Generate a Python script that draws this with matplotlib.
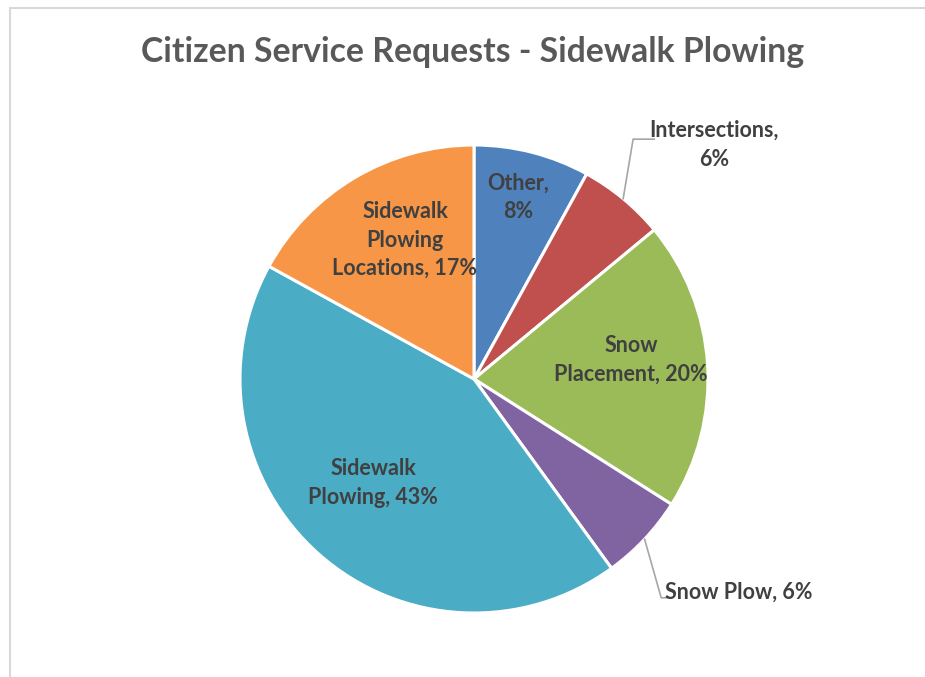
import numpy as np
import matplotlib.pyplot as plt
from matplotlib.patches import Rectangle

# slices, clockwise from 12 o'clock
categories = ["Other", "Intersections", "Snow Placement", "Snow Plow",
              "Sidewalk Plowing", "Sidewalk Plowing Locations"]
shares = [8, 6, 20, 6, 43, 17]
label_texts = ["Other,\n8%", "Intersections,\n6%", "Snow\nPlacement, 20%",
               "Snow Plow, 6%", "Sidewalk\nPlowing, 43%",
               "Sidewalk\nPlowing\nLocations, 17%"]
colors = ["#4F81BD", "#C0504D", "#9BBB59", "#8064A2", "#4BACC6", "#F79646"]

plt.rcParams['font.family'] = ['Lato', 'DejaVu Sans']

W, H = 925, 677
fig = plt.figure(figsize=(W / 100, H / 100), dpi=100)

# chart border (light gray, cut off at right / bottom)
fig.patches.append(Rectangle((10 / W, -0.1), 1.2, (H - 8) / H + 0.1,
                             transform=fig.transFigure, fill=False,
                             edgecolor="#D9D9D9", linewidth=1.5))

cx, cy, r = 474, 379, 234
ax = fig.add_axes([(cx - r) / W, (H - cy - r) / H, 2 * r / W, 2 * r / H])

wedges, _ = ax.pie(shares, colors=colors, startangle=90, counterclock=False,
                   radius=1, wedgeprops=dict(edgecolor="white", linewidth=2.2))
ax.set_xlim(-1, 1)
ax.set_ylim(-1, 1)
ax.axis("off")

# label centres in data units (1 = radius)
label_pos = [(0.19, 0.775), (1.026, 1.0), (0.67, 0.08),
             (1.13, -0.91), (-0.43, -0.445), (-0.295, 0.594)]
txt_kw = dict(color="#404040", fontsize=15.5, fontweight="bold",
              ha="center", va="center", linespacing=1.45)
for (lx, ly), t in zip(label_pos, label_texts):
    ax.text(lx, ly, t, clip_on=False, **txt_kw)

# leader lines for the two small outside labels
for i, (ex, ey) in [(1, (0.72, 1.025)), (3, (0.79, -0.935))]:
    w = wedges[i]
    mid = np.deg2rad((w.theta1 + w.theta2) / 2)
    sx, sy = np.cos(mid), np.sin(mid)
    ax.plot([sx, ex - 0.04 * (i == 1) + 0.01 * (i == 3), ex + 0.05],
            [sy, ey, ey], color="#A6A6A6", linewidth=1.2, clip_on=False)

fig.text(473 / W, 1 - 52 / H, "Citizen Service Requests - Sidewalk Plowing",
         ha="center", va="center", fontsize=24.3, fontweight="bold",
         color="#595959")

fig.savefig("out.png", dpi=100)
